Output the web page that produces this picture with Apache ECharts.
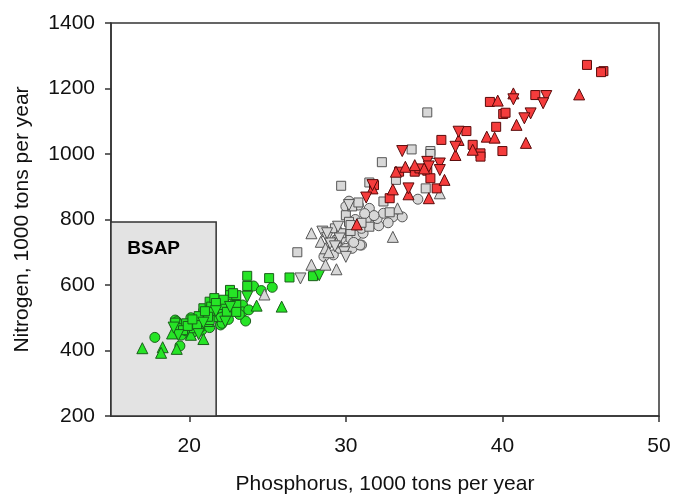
<!DOCTYPE html>
<html>
<head>
<meta charset="utf-8">
<script src="https://cdn.jsdelivr.net/npm/echarts@6/dist/echarts.min.js"></script>
<style>html,body{margin:0;padding:0;background:#fff;}#c{width:673px;height:494px;}</style>
</head>
<body>
<div id="c"></div>
<script>
var xTicks = [20, 30, 40, 50];
var bsapP = 21.716;
var bsapN = 792;

var greenCircle = [[17.8,440],[19.4,414],[19.1,493],[19.6,452],[19.9,452],[20.5,468],[20.8,462],[21.1,478],[20.0,468],[19.5,447],[21.5,514],[22.0,478],[22.1,483],[22.4,514],[23.4,539],[23.4,518],[23.8,524],[23.6,490],[24.1,597],[24.6,583],[25.3,593],[22.0,503],[20.3,458],[19.2,488],[21.6,522],[20.2,455],[20.7,470],[21.3,470],[19.8,460],[20.4,490],[21.0,500],[22.5,495],[22.9,530],[23.2,510],[21.9,530],[20.1,500]];
var greenTriangle = [[17.0,407],[18.3,410],[18.2,393],[18.9,452],[19.2,405],[20.9,435],[19.4,483],[24.3,537],[25.9,534],[19.7,470],[22.4,548],[21.2,490],[20.1,448],[21.5,505],[22.9,560]];
var greenSquare = [[19.1,485],[19.3,468],[19.8,483],[20.3,483],[20.3,468],[20.7,493],[20.9,514],[20.9,529],[21.3,549],[21.4,534],[21.3,518],[21.3,493],[21.2,503],[22.1,539],[22.6,585],[22.6,569],[23.0,569],[23.0,539],[23.0,518],[23.7,628],[23.7,597],[25.1,621],[26.4,623],[27.9,627],[22.4,518],[20.5,478],[19.6,462],[19.9,475],[20.6,505],[21.0,520],[21.6,560],[22.2,555],[22.8,575],[20.2,495],[21.7,545]];
var greenDown = [[19.3,447],[22.3,488],[23.7,564],[28.3,630],[20.6,450],[21.7,520],[19.0,470],[20.9,485],[22.6,533]];

var grayCircle = [[28.6,687],[29.2,692],[29.6,712],[30.0,712],[30.4,712],[31.0,722],[30.3,742],[29.7,742],[30.7,753],[31.1,758],[31.0,773],[31.6,783],[32.1,781],[31.3,798],[32.0,803],[32.4,819],[33.0,808],[33.6,808],[31.5,834],[30.8,844],[30.2,856],[30.0,840],[34.6,862],[30.9,722],[29.4,728],[30.5,730],[31.8,812],[31.2,818],[32.7,790],[30.6,800]];
var grayTriangle = [[24.8,571],[27.8,758],[28.4,732],[27.8,662],[28.7,662],[28.7,712],[29.4,648],[29.6,768],[33.0,747],[33.3,834],[36.0,880],[28.9,700],[29.2,735]];
var graySquare = [[26.9,700],[29.3,773],[29.7,758],[30.0,813],[30.2,793],[30.3,765],[30.3,783],[30.4,840],[31.5,778],[30.8,852],[32.4,855],[32.8,822],[29.7,903],[31.5,913],[33.2,921],[32.3,975],[34.2,1014],[35.4,1009],[35.4,1000],[35.2,1127],[35.1,895],[31.0,790]];
var grayDown = [[27.1,620],[28.5,763],[28.8,743],[29.0,727],[29.5,778],[29.6,742],[29.9,700],[30.0,686],[30.2,844],[28.8,758],[29.3,718]];

var redSquare = [[45.4,1272],[46.45,1253],[46.3,1250],[42.1,1180],[39.2,1159],[40.05,1122],[40.2,1126],[39.6,1083],[37.7,1070],[36.1,1043],[38.1,1028],[38.6,1002],[38.6,992],[40.0,1009],[33.4,946],[34.4,946],[34.7,956],[35.2,949],[35.4,926],[35.8,895],[32.8,865],[31.8,905]];
var redTriangle = [[44.9,1182],[40.7,1185],[39.7,1163],[40.9,1089],[37.2,1043],[39.0,1053],[39.5,1050],[41.5,1034],[38.1,1013],[37.0,997],[33.8,961],[34.4,966],[35.0,956],[33.2,946],[36.3,921],[33.0,892],[34.0,877],[35.3,865],[30.7,785],[31.7,895]];
var redDown = [[42.8,1177],[42.6,1155],[40.7,1167],[41.8,1124],[41.4,1109],[37.2,1068],[37.0,1022],[33.6,1009],[35.2,976],[36.0,971],[36.0,951],[31.7,905],[31.3,867],[34.0,895],[35.3,962]];

var FONT = 'Liberation Sans, Arial, sans-serif';
var colors = {
  green: {fill: '#26e426', border: '#1a5e1a'},
  gray: {fill: '#d8d8d8', border: '#555555'},
  red: {fill: '#f53c3c', border: '#5a0a0a'}
};

function sc(data, group, shape) {
  var c = colors[group];
  var sym = shape === 'down' ? 'triangle' : shape;
  var size = shape === 'circle' ? 10 : (shape === 'rect' ? 9 : 11);
  return {
    type: 'scatter', data: data, symbol: sym, symbolSize: size,
    symbolRotate: shape === 'down' ? 180 : 0,
    z: 3, silent: true, animation: false,
    itemStyle: {color: c.fill, borderColor: c.border, borderWidth: 1, opacity: 1}
  };
}

var chart = echarts.init(document.getElementById('c'), null, {renderer: 'canvas'});
chart.setOption({
  animation: false,
  backgroundColor: '#ffffff',
  grid: {left: 111, right: 14, top: 23, bottom: 78, outerBoundsMode: 'none', containLabel: false, show: true, borderColor: '#333', borderWidth: 1.5, backgroundColor: 'transparent'},
  xAxis: {
    type: 'value', min: 15, max: 50,
    name: 'Phosphorus, 1000 tons per year', nameLocation: 'middle', nameGap: 58,
    nameTextStyle: {fontFamily: FONT, fontSize: 21, color: '#111'},
    axisLine: {show: true, onZero: false, lineStyle: {color: '#333', width: 1.5}},
    axisTick: {show: true, inside: false, length: 6, customValues: xTicks, lineStyle: {color: '#333', width: 1.5}},
    axisLabel: {customValues: xTicks, fontFamily: FONT, fontSize: 21, color: '#111', margin: 20},
    splitLine: {show: false}
  },
  yAxis: {
    type: 'value', min: 200, max: 1400, interval: 200,
    name: 'Nitrogen, 1000 tons per year', nameLocation: 'middle', nameGap: 78, nameRotate: 90,
    nameTextStyle: {fontFamily: FONT, fontSize: 21, color: '#111'},
    axisLine: {show: true, onZero: false, lineStyle: {color: '#333', width: 1.5}},
    axisTick: {show: true, inside: false, length: 6, lineStyle: {color: '#333', width: 1.5}},
    axisLabel: {fontFamily: FONT, fontSize: 21, color: '#111', margin: 16, formatter: function (v) { return String(v); }},
    splitLine: {show: false}
  },
  series: [
    {
      type: 'scatter', data: [], z: 1, silent: true,
      markArea: {
        silent: true,
        itemStyle: {color: '#e3e3e3', borderColor: '#333', borderWidth: 1.5},
        label: {show: true, position: 'insideTopLeft', formatter: 'BSAP', offset: [12, 13],
          fontFamily: FONT, fontSize: 19, fontWeight: 'bold', color: '#000'},
        data: [[{coord: [15, 200]}, {coord: [bsapP, bsapN]}]]
      }
    },
    sc(greenCircle, 'green', 'circle'),
    sc(greenTriangle, 'green', 'triangle'),
    sc(greenSquare, 'green', 'rect'),
    sc(greenDown, 'green', 'down'),
    sc(grayCircle, 'gray', 'circle'),
    sc(grayTriangle, 'gray', 'triangle'),
    sc(graySquare, 'gray', 'rect'),
    sc(grayDown, 'gray', 'down'),
    sc(redSquare, 'red', 'rect'),
    sc(redTriangle, 'red', 'triangle'),
    sc(redDown, 'red', 'down')
  ]
});
</script>
</body>
</html>
